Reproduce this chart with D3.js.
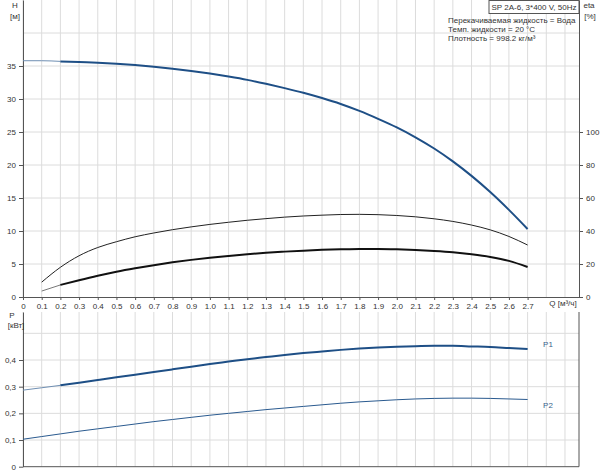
<!DOCTYPE html>
<html><head><meta charset="utf-8">
<script src="https://cdn.jsdelivr.net/npm/d3@7"></script>
<style>
body{margin:0;background:#fff;}
svg text{font-family:"Liberation Sans",Arial,sans-serif;}
</style></head>
<body><svg id="c" width="600" height="474"></svg>
<script>
const qValues = [0,0.1,0.2,0.3,0.4,0.5,0.6,0.7,0.8,0.9,1.0,1.1,1.2,1.3,1.4,1.5,1.6,1.7,1.8,1.9,2.0,2.1,2.2,2.3,2.4,2.5,2.6,2.7];
const headH = [35.8,35.8,35.7,35.6,35.5,35.35,35.15,34.9,34.6,34.25,33.85,33.4,32.9,32.3,31.65,30.95,30.15,29.25,28.2,27.0,25.7,24.2,22.5,20.55,18.35,15.9,13.2,10.3];
const etaPump = [null,9,18,25,30,33.5,36.5,38.8,40.8,42.5,44,45.3,46.5,47.5,48.4,49.1,49.6,50,50.1,49.9,49.4,48.6,47.4,45.8,43.6,40.7,36.7,31.5];
const etaTotal = [null,3.6,7.3,10.2,12.9,15.3,17.4,19.3,21,22.5,23.8,24.9,25.9,26.8,27.5,28.1,28.6,28.9,29.1,29.1,28.9,28.5,27.9,27.1,25.9,24.3,21.9,18.2];
const powerP1 = [0.287,0.296,0.305,0.315,0.325,0.335,0.345,0.355,0.365,0.375,0.385,0.394,0.403,0.411,0.419,0.426,0.432,0.438,0.443,0.447,0.450,0.452,0.453,0.453,0.451,0.449,0.445,0.441];
const powerP2 = [0.103,0.113,0.123,0.133,0.142,0.151,0.160,0.169,0.177,0.185,0.193,0.200,0.207,0.214,0.220,0.226,0.232,0.238,0.243,0.247,0.251,0.254,0.256,0.257,0.257,0.256,0.254,0.252];
const qTicks = [0,0.1,0.2,0.3,0.4,0.5,0.6,0.7,0.8,0.9,1.0,1.1,1.2,1.3,1.4,1.5,1.6,1.7,1.8,1.9,2.0,2.1,2.2,2.3,2.4,2.5,2.6,2.7];
const qGrid = qTicks.concat([2.8,2.9]);
const hTicks = [0,5,10,15,20,25,30,35];
const hGrid = [5,10,15,20,25,30,35,40];
const etaTicks = [0,20,40,60,80,100];
const pTicks = [0,0.1,0.2,0.3,0.4];
const pGrid = [0.1,0.2,0.3,0.4,0.5];
const infoLines = ["Перекачиваемая жидкость = Вода","Темп. жидкости = 20 °C","Плотность = 998.2 кг/м³"];
const titleText = "SP 2A-6, 3*400 V, 50Hz";

const svg = d3.select("#c");
const L = 23, R = 579;
const x = d3.scaleLinear().domain([0, 2.975]).range([L, R]);
const yH = d3.scaleLinear().domain([0, 45]).range([297, 0]);
const yE = d3.scaleLinear().domain([0, 180]).range([297, 0]);
const yP = d3.scaleLinear().domain([0, 0.58]).range([466.7, 312]);
const gridC = "#dcdcdc", axisC = "#555", txtC = "#333";

// grids
const g = svg.append("g");
qGrid.forEach(q => {
  g.append("line").attr("x1", x(q)).attr("x2", x(q)).attr("y1", 0).attr("y2", 297).attr("stroke", gridC);
  g.append("line").attr("x1", x(q)).attr("x2", x(q)).attr("y1", 312).attr("y2", 466.7).attr("stroke", gridC);
});
hGrid.forEach(h => g.append("line").attr("x1", L).attr("x2", R).attr("y1", yH(h)).attr("y2", yH(h)).attr("stroke", gridC));
pGrid.forEach(p => g.append("line").attr("x1", L).attr("x2", R).attr("y1", yP(p)).attr("y2", yP(p)).attr("stroke", gridC));

function styleAxis(sel){
  sel.select(".domain").attr("stroke", axisC);
  sel.selectAll(".tick line").attr("stroke", axisC);
  sel.selectAll(".tick text").attr("fill", txtC).style("font-size", "8px");
}
// top panel axes
svg.append("g").attr("transform", `translate(${L},0)`)
  .call(d3.axisLeft(yH).tickValues(hTicks).tickSize(4).tickPadding(3).tickSizeOuter(0)).call(styleAxis);
svg.append("g").attr("transform", `translate(${R},0)`)
  .call(d3.axisRight(yE).tickValues(etaTicks).tickSize(4).tickPadding(3).tickSizeOuter(0)).call(styleAxis);
svg.append("g").attr("transform", `translate(0,297)`)
  .call(d3.axisBottom(x).tickValues(qTicks).tickSize(3).tickPadding(3).tickSizeOuter(0)
    .tickFormat(d => d === 0 ? "0" : d3.format(".1f")(d))).call(styleAxis);
// bottom panel axes
svg.append("g").attr("transform", `translate(${L},0)`)
  .call(d3.axisLeft(yP).tickValues(pTicks).tickSize(4).tickPadding(3).tickSizeOuter(0)
    .tickFormat(d => d === 0 ? "0" : d3.format(".1f")(d).replace(".", ","))).call(styleAxis);
svg.append("line").attr("x1", L).attr("x2", R).attr("y1", 466.7).attr("y2", 466.7).attr("stroke", axisC);
svg.append("line").attr("x1", R).attr("x2", R).attr("y1", 312).attr("y2", 466.7).attr("stroke", axisC);

// axis titles
const t = (xx, yy, s, anchor) => svg.append("text").attr("x", xx).attr("y", yy).attr("fill", txtC)
  .style("font-size", "8px").attr("text-anchor", anchor || "middle").text(s);
t(15, 8, "H"); t(15, 19, "[м]");
t(589, 8, "eta"); t(590, 19, "[%]");
t(563, 306, "Q [м³/ч]");
t(12, 318, "P"); t(16, 328, "[кВт]");

// title box and info
svg.append("rect").attr("x", 489).attr("y", 0.5).attr("width", 90).attr("height", 13).attr("fill", "#fff").attr("stroke", axisC);
t(534, 10, titleText).style("font-size", "8px");
infoLines.forEach((s, i) => t(448, 23 + i * 9, s, "start").style("font-size", "8px"));

// curves
const line = d3.line().curve(d3.curveMonotoneX);
function drawCurve(arr, ys, color, w, thinColor, splitQ){
  const all = qValues.map((q, i) => ({q, v: arr[i]})).filter(d => d.v != null);
  const thin = all.filter(d => d.q <= splitQ + 1e-9).map(d => [x(d.q), ys(d.v)]);
  const thick = all.filter(d => d.q >= splitQ - 1e-9).map(d => [x(d.q), ys(d.v)]);
  if (thin.length > 1) svg.append("path").attr("d", line(thin)).attr("fill", "none").attr("stroke", thinColor).attr("stroke-width", 1);
  svg.append("path").attr("d", line(thick)).attr("fill", "none").attr("stroke", color).attr("stroke-width", w);
}
drawCurve(headH, yH, "#1e4f86", 2, "#6f8fb3", 0.2);
drawCurve(etaPump, yE, "#222", 1, "#888", 0.1);
drawCurve(etaTotal, yE, "#111", 2, "#777", 0.2);
drawCurve(powerP1, yP, "#1e4f86", 2, "#6f8fb3", 0.2);
drawCurve(powerP2, yP, "#2a5a8f", 1, "#6f8fb3", 0.0);

t(548, 347, "P1", "middle").attr("fill", "#3a5f8a");
t(548, 408, "P2", "middle").attr("fill", "#3a5f8a");
</script></body></html>
